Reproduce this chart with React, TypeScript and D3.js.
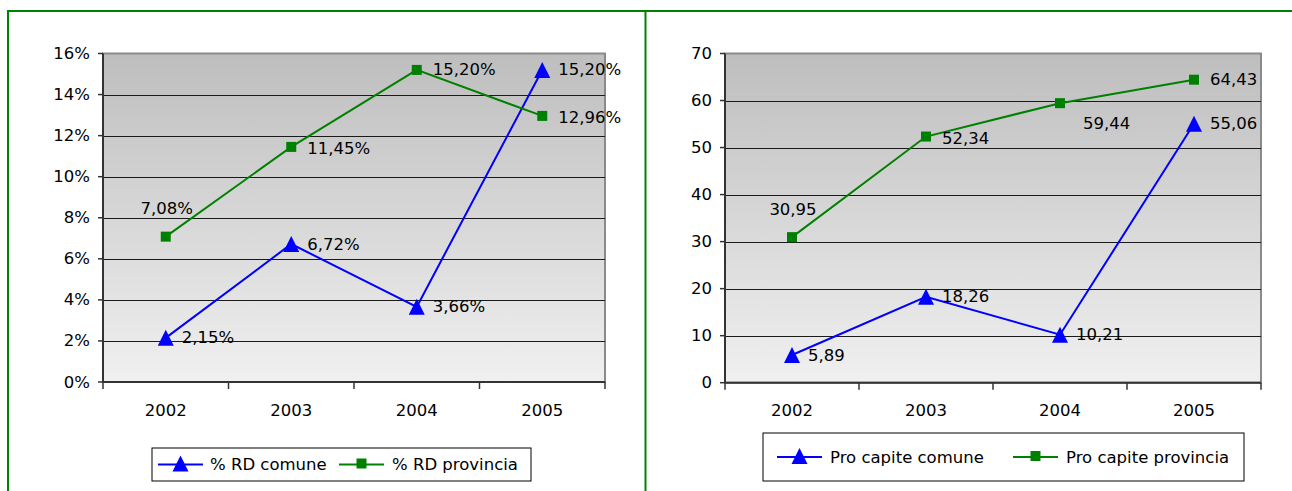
import React from "react";
import * as d3 from "d3";

const years = ["2002", "2003", "2004", "2005"];
const rdComune = [2.15, 6.72, 3.66, 15.2];
const rdProvincia = [7.08, 11.45, 15.2, 12.96];
const pcComune = [5.89, 18.26, 10.21, 55.06];
const pcProvincia = [30.95, 52.34, 59.44, 64.43];
const pctTicks = [0, 2, 4, 6, 8, 10, 12, 14, 16];
const pcTicks = [0, 10, 20, 30, 40, 50, 60, 70];

// label placement per point (style, not data)
const rdComunePlace = ["right", "right", "right", "right"];
const rdProvPlace = ["above", "rightlow", "right", "rightlow"];
const pcComunePlace = ["right", "right", "right", "right"];
const pcProvPlace = ["above", "rightlow", "below", "right"];

const FONT = "DejaVu Sans";
const FS = 16.5;
const BLUE = "#0000ff";
const GREEN = "#008000";

type Series = { name: string; values: number[]; color: string; marker: "tri" | "sq"; place: string[] };

function Marker({ x, y, kind, color }: { x: number; y: number; kind: "tri" | "sq"; color: string }) {
  if (kind === "tri") {
    const h = 16, w = 16;
    return <path d={`M${x},${y - h / 2} L${x + w / 2},${y + h / 2} L${x - w / 2},${y + h / 2} Z`} fill={color} />;
  }
  return <rect x={x - 5} y={y - 5} width={10} height={10} fill={color} />;
}

function Chart({
  id, left, right, top, bottom, max, ticks, fmtTick, fmtLabel, series, legend,
}: {
  id: string; left: number; right: number; top: number; bottom: number; max: number; ticks: number[];
  fmtTick: (v: number) => string; fmtLabel: (v: number) => string; series: Series[];
  legend: { x: number; y: number; w: number; h: number; items: { lx: number; tx: number }[] };
}) {
  const x = d3.scaleBand<string>().domain(years).range([left, right]);
  const y = d3.scaleLinear().domain([0, max]).range([bottom, top]);
  const line = d3.line<number>().x((_, i) => x(years[i])! + x.bandwidth() / 2).y((v) => y(v));
  const boundaries = [...years.map((yr) => x(yr)!), right];
  return (
    <g>
      <defs>
        <linearGradient id={id} x1="0" y1="0" x2="0" y2="1">
          <stop offset="0" stopColor="#bebebe" />
          <stop offset="1" stopColor="#f0f0f0" />
        </linearGradient>
      </defs>
      <rect x={left} y={top} width={right - left} height={bottom - top} fill={`url(#${id})`} stroke="#8a8a8a" strokeWidth={2} />
      {ticks.slice(1, -1).map((t) => (
        <line key={t} x1={left} x2={right} y1={Math.round(y(t)) + 0.5} y2={Math.round(y(t)) + 0.5} stroke="#1a1a1a" strokeWidth={1} />
      ))}
      <line x1={left} x2={left} y1={top} y2={bottom} stroke="#333" strokeWidth={2} />
      <line x1={left} x2={right} y1={bottom} y2={bottom} stroke="#333" strokeWidth={2} />
      {ticks.map((t) => (
        <g key={t}>
          <line x1={left - 5} x2={left} y1={y(t)} y2={y(t)} stroke="#333" strokeWidth={1.5} />
          <text x={left - 13} y={y(t)} textAnchor="end" dominantBaseline="central" fontFamily={FONT} fontSize={FS} fill="#000">
            {fmtTick(t)}
          </text>
        </g>
      ))}
      {boundaries.map((b, i) => (
        <line key={i} x1={b} x2={b} y1={bottom} y2={bottom + 7} stroke="#333" strokeWidth={1.5} />
      ))}
      {years.map((yr) => (
        <text key={yr} x={x(yr)! + x.bandwidth() / 2} y={bottom + 28} textAnchor="middle" dominantBaseline="central" fontFamily={FONT} fontSize={FS} fill="#000">
          {yr}
        </text>
      ))}
      {series.map((s) => (
        <g key={s.name}>
          <path d={line(s.values)!} fill="none" stroke={s.color} strokeWidth={2} />
          {s.values.map((v, i) => (
            <Marker key={i} x={x(years[i])! + x.bandwidth() / 2} y={y(v)} kind={s.marker} color={s.color} />
          ))}
        </g>
      ))}
      {series.map((s) =>
        s.values.map((v, i) => {
          const cx = x(years[i])! + x.bandwidth() / 2;
          const cy = y(v);
          const p = s.place[i];
          let tx = cx + 16, ty = cy, anchor = "start";
          if (p === "above") { tx = cx + 1; ty = cy - 28; anchor = "middle"; }
          if (p === "rightlow") { ty = cy + 2; }
          if (p === "below") { tx = cx + 23; ty = cy + 20; }
          return (
            <text key={s.name + i} x={tx} y={ty} textAnchor={anchor} dominantBaseline="central" fontFamily={FONT} fontSize={FS} fill="#000">
              {fmtLabel(v)}
            </text>
          );
        })
      )}
      <rect x={legend.x} y={legend.y} width={legend.w} height={legend.h} fill="#fff" stroke="#000" strokeWidth={1} />
      {series.map((s, i) => {
        const it = legend.items[i];
        const ly = legend.y + legend.h / 2;
        return (
          <g key={s.name}>
            <line x1={it.lx} x2={it.lx + 45} y1={ly} y2={ly} stroke={s.color} strokeWidth={2} />
            <Marker x={it.lx + 22.5} y={ly - 1} kind={s.marker} color={s.color} />
            <text x={it.tx} y={ly} dominantBaseline="central" fontFamily={FONT} fontSize={FS} fill="#000">{s.name}</text>
          </g>
        );
      })}
    </g>
  );
}

const fmtComma = (v: number) => v.toFixed(2).replace(".", ",");

export default function App() {
  return (
    <svg width={1292} height={491} style={{ position: "absolute", left: 0, top: 0, background: "#fff" }}>
      <rect x={0} y={0} width={1292} height={491} fill="#fff" />
      <line x1={8} x2={1292} y1={11} y2={11} stroke={GREEN} strokeWidth={2} />
      <line x1={8} x2={8} y1={10} y2={491} stroke={GREEN} strokeWidth={2} />
      <line x1={645.5} x2={645.5} y1={10} y2={491} stroke={GREEN} strokeWidth={2} />
      <Chart
        id="g1" left={103} right={605} top={53.5} bottom={382} max={16} ticks={pctTicks}
        fmtTick={(v) => `${v}%`} fmtLabel={(v) => fmtComma(v) + "%"}
        series={[
          { name: "% RD comune", values: rdComune, color: BLUE, marker: "tri", place: rdComunePlace },
          { name: "% RD provincia", values: rdProvincia, color: GREEN, marker: "sq", place: rdProvPlace },
        ]}
        legend={{ x: 152, y: 448, w: 379, h: 33, items: [{ lx: 158, tx: 210 }, { lx: 339, tx: 392 }] }}
      />
      <Chart
        id="g2" left={725} right={1261} top={53.5} bottom={382.7} max={70} ticks={pcTicks}
        fmtTick={(v) => `${v}`} fmtLabel={fmtComma}
        series={[
          { name: "Pro capite comune", values: pcComune, color: BLUE, marker: "tri", place: pcComunePlace },
          { name: "Pro capite provincia", values: pcProvincia, color: GREEN, marker: "sq", place: pcProvPlace },
        ]}
        legend={{ x: 763, y: 433, w: 481, h: 48, items: [{ lx: 777, tx: 830 }, { lx: 1013, tx: 1066 }] }}
      />
    </svg>
  );
}
